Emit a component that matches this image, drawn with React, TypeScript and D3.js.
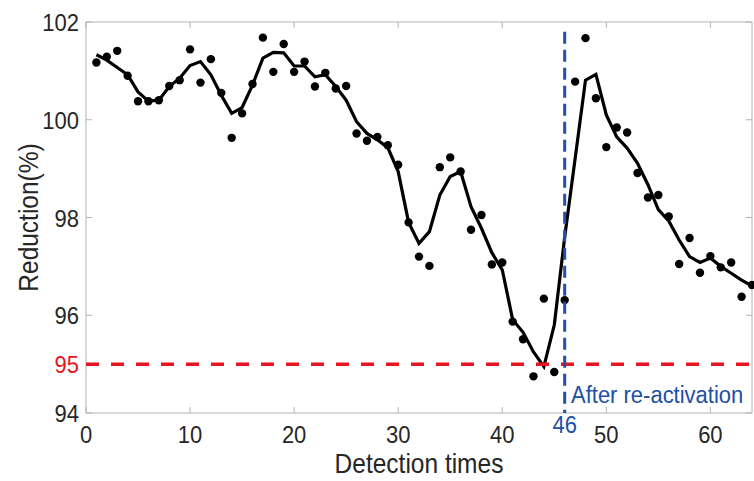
import React from "react";
import * as d3 from "d3";

const detectionTimes = d3.range(1, 65);
const reductionPoints = [
  101.17, 101.29, 101.41, 100.9, 100.38, 100.38, 100.4, 100.69, 100.81, 101.44,
  100.76, 101.24, 100.55, 99.63, 100.13, 100.73, 101.68, 100.98, 101.55, 100.98,
  101.19, 100.68, 100.96, 100.64, 100.69, 99.72, 99.57, 99.65, 99.48, 99.08,
  97.9, 97.2, 97.01, 99.03, 99.23, 98.94, 97.75, 98.05, 97.04, 97.08,
  95.87, 95.51, 94.75, 96.34, 94.84, 96.31, 100.78, 101.67, 100.44, 99.44,
  99.84, 99.74, 98.91, 98.41, 98.46, 98.02, 97.05, 97.58, 96.87, 97.21,
  96.98, 97.08, 96.38, 96.62,
];
const reductionSmoothed = [
  101.33, 101.22, 101.07, 100.92, 100.57, 100.38, 100.4, 100.68, 100.85, 101.11,
  101.19, 100.92, 100.5, 100.13, 100.25, 100.71, 101.26, 101.38, 101.37, 101.1,
  101.1, 100.88, 100.92, 100.68, 100.4, 99.96, 99.72, 99.59, 99.43, 98.94,
  97.9, 97.47, 97.71, 98.46, 98.84, 98.94, 98.22, 97.78, 97.28, 96.93,
  95.91, 95.65, 95.25, 94.95, 95.8, 97.6, 99.2, 100.81, 100.93, 100.1,
  99.65, 99.42, 99.11, 98.67, 98.16, 97.93, 97.54, 97.2, 97.08, 97.17,
  97.0, 96.86, 96.72, 96.6,
];
const xTicks = [0, 10, 20, 30, 40, 50, 60];
const yTicks = [94, 96, 98, 100, 102];
const thresholdValue = 95;
const reactivationTime = 46;
const reactivationTop = 101.8;

const W = 754;
const H = 481;
const M = { left: 86, right: 752, top: 22, bottom: 413 };
const FONT = "'Liberation Sans', Arial, Helvetica, sans-serif";

function T(props: {
  x: number;
  y: number;
  size: number;
  fill: string;
  anchor?: string;
  sy?: number;
  rotate?: number;
  children: React.ReactNode;
}) {
  const { x, y, size, fill, anchor = "start", sy = 1.1, rotate = 0, children } = props;
  return (
    <text
      transform={`translate(${x},${y}) rotate(${rotate}) scale(1,${sy})`}
      textAnchor={anchor as any}
      fontFamily={FONT}
      fontSize={size}
      fill={fill}
    >
      {children}
    </text>
  );
}

export default function App() {
  const x = d3.scaleLinear().domain([0, 64]).range([M.left, M.right]);
  const y = d3.scaleLinear().domain([94, 102]).range([M.bottom, M.top]);
  const line = d3
    .line<number>()
    .x((_, i) => x(detectionTimes[i]))
    .y((d) => y(d));
  const axisColor = "#b4b4b4";
  const textColor = "#262626";
  const red = "#e8151f";
  const blue = "#2150a6";
  const tickLen = 6;

  return (
    <div style={{ position: "absolute", left: 0, top: 0 }}>
      <svg width={W} height={H} style={{ display: "block", background: "#fff" }}>
        <rect
          x={M.left}
          y={M.top}
          width={M.right - M.left}
          height={M.bottom - M.top}
          fill="none"
          stroke={axisColor}
          strokeWidth={1}
        />
        {xTicks.map((t) => (
          <g key={"xt" + t}>
            <line x1={x(t)} x2={x(t)} y1={M.bottom} y2={M.bottom - tickLen} stroke={axisColor} />
            <line x1={x(t)} x2={x(t)} y1={M.top} y2={M.top + tickLen} stroke={axisColor} />
            <T x={x(t)} y={443} size={22} fill={textColor} anchor="middle">
              {t}
            </T>
          </g>
        ))}
        {yTicks.map((t) => (
          <g key={"yt" + t}>
            <line x1={M.left} x2={M.left + tickLen} y1={y(t)} y2={y(t)} stroke={axisColor} />
            <line x1={M.right} x2={M.right - tickLen} y1={y(t)} y2={y(t)} stroke={axisColor} />
            <T x={79} y={y(t) + 9} size={22} fill={textColor} anchor="end">
              {t}
            </T>
          </g>
        ))}
        <T x={79} y={y(thresholdValue) + 9} size={22} fill={red} anchor="end">
          {thresholdValue}
        </T>
        <path
          d={line(reductionSmoothed) || ""}
          fill="none"
          stroke="#000"
          strokeWidth={3.2}
          strokeLinejoin="miter"
        />
        {reductionPoints.map((v, i) => (
          <circle key={i} cx={x(detectionTimes[i])} cy={y(v)} r={4.2} fill="#000" />
        ))}
        <line
          x1={M.left}
          x2={M.right}
          y1={y(thresholdValue)}
          y2={y(thresholdValue)}
          stroke={red}
          strokeWidth={3.5}
          strokeDasharray="13,12"
        />
        <line
          x1={x(reactivationTime)}
          x2={x(reactivationTime)}
          y1={y(reactivationTop)}
          y2={M.bottom}
          stroke={blue}
          strokeWidth={3}
          strokeDasharray="12,6"
        />
        <T x={x(reactivationTime)} y={433} size={22} fill={blue} anchor="middle">
          {reactivationTime}
        </T>
        <T x={571} y={403} size={22} fill={blue}>
          After re-activation
        </T>
        <T x={(M.left + M.right) / 2} y={473} size={24.5} sy={1.15} fill={textColor} anchor="middle">
          Detection times
        </T>
        <T
          x={38}
          y={(M.top + M.bottom) / 2}
          size={24.5}
          sy={1.15}
          rotate={-90}
          fill={textColor}
          anchor="middle"
        >
          Reduction(%)
        </T>
      </svg>
    </div>
  );
}
